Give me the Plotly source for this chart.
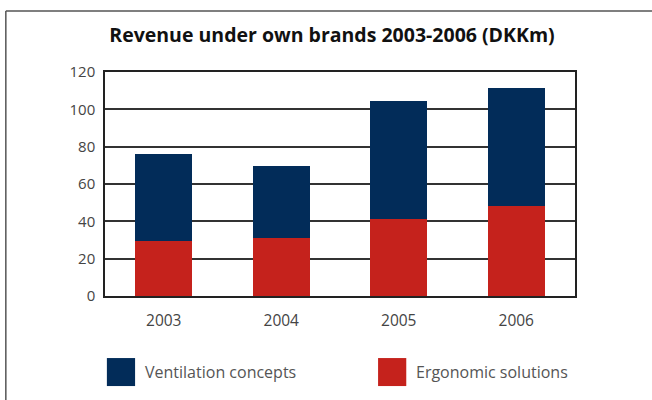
import plotly.graph_objects as go

years = ["2003", "2004", "2005", "2006"]
ergonomic = [29.5, 31, 41, 48]
ventilation = [46.5, 38.5, 63.5, 63.5]
series_names = ["Ventilation concepts", "Ergonomic solutions"]
y_ticks = [0, 20, 40, 60, 80, 100, 120]

COLORS = {
    "Ventilation concepts": "#022c59",
    "Ergonomic solutions": "#c5221c",
}
FONT = "Open Sans, Noto Sans, sans-serif"

fig = go.Figure()
fig.add_trace(go.Bar(
    name="Ergonomic solutions", x=years, y=ergonomic,
    marker=dict(color=COLORS["Ergonomic solutions"], line=dict(width=0)),
))
fig.add_trace(go.Bar(
    name="Ventilation concepts", x=years, y=ventilation,
    marker=dict(color=COLORS["Ventilation concepts"], line=dict(width=0)),
))

# outer frame (open at right and bottom, as in the original)
frame = dict(type="line", xref="paper", yref="paper",
             line=dict(color="#555555", width=1.5))
shapes = [
    dict(frame, x0=-0.211, x1=1.3, y0=1.272, y1=1.272),
    dict(frame, x0=-0.211, x1=-0.211, y0=1.272, y1=-0.6),
]

# legend swatches and labels drawn by hand to get the large squares
annotations = []
for i, name in enumerate(series_names):
    x0 = [0.004, 0.581][i]
    shapes.append(dict(type="rect", xref="paper", yref="paper",
                       x0=x0, x1=x0 + 0.06, y0=-0.277, y1=-0.402,
                       fillcolor=COLORS[name], line=dict(width=0)))
    annotations.append(dict(xref="paper", yref="paper", x=x0 + 0.076, y=-0.34,
                            text=name, showarrow=False, xanchor="left",
                            yanchor="middle",
                            font=dict(family=FONT, size=16, color="#555555")))

fig.update_layout(
    width=652, height=400,
    barmode="stack", bargap=0.515,
    showlegend=False,
    plot_bgcolor="white", paper_bgcolor="white",
    margin=dict(l=105, r=77, t=72, b=104),
    title=dict(text="<b>Revenue under own brands 2003-2006 (DKKm)</b>",
               x=0.483, xref="paper", xanchor="center",
               y=0.912, yanchor="middle",
               font=dict(family=FONT, size=19.5, color="#111111")),
    font=dict(family=FONT, size=15, color="#444444"),
    shapes=shapes,
    annotations=annotations,
)
fig.update_xaxes(showgrid=False, showline=True, linecolor="#222222",
                 linewidth=1.5, mirror=True, ticks="",
                 ticklabelstandoff=10, tickfont=dict(size=15.5))
fig.update_yaxes(range=[0, 120], tickvals=y_ticks, showgrid=True,
                 gridcolor="#333333", gridwidth=1.5, showline=True,
                 linecolor="#222222", linewidth=1.5, mirror=True,
                 ticks="", zeroline=False, ticklabelstandoff=5,
                 tickfont=dict(size=15))

# the page body has a default 8px margin; drop it so the figure sits at 0,0
fig.write_html("out.html", config={"displayModeBar": False},
               post_script="document.body.style.margin='0';")
